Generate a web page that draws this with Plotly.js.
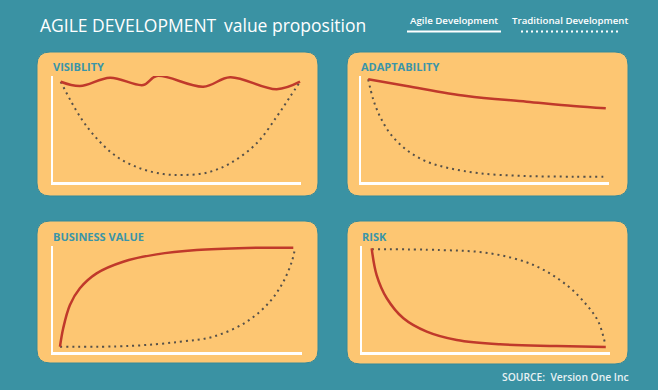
<!DOCTYPE html>
<html>
<head>
<meta charset="utf-8">
<script src="https://cdn.plot.ly/plotly-3.0.1.min.js"></script>
<style>html,body{margin:0;padding:0;background:#3a92a3;}#chart{width:658px;height:390px;}</style>
</head>
<body>
<div id="chart"></div>
<script>
// ---- data ----
const panelTitles = ["VISIBLITY", "ADAPTABILITY", "BUSINESS VALUE", "RISK"];
const seriesNames = ["Agile Development", "Traditional Development"];

const visAgileX = [3.1, 10.9, 23.0, 36.4, 41.8, 60.6, 71.4, 90.2, 99.6];
const visAgileY = [94.6, 90.6, 98.4, 91.5, 100, 89.9, 98.8, 87.5, 94.6];
const visTradX = [3.1, 10.9, 17.6, 25.7, 35.1, 44.5, 52.5, 62.0, 71.4, 82.1, 90.2, 95.6, 99.6];
const visTradY = [94.6, 61.6, 41.2, 23.9, 12.9, 7.5, 6.6, 8.8, 17.6, 36.5, 61.6, 80.5, 94.6];

const adaAgileX = [2.9, 18.4, 42.6, 66.8, 85.6, 98.7];
const adaAgileY = [96.9, 90.6, 81.1, 75.8, 71.7, 69.5];
const adaTradX = [2.9, 5.0, 7.7, 11.7, 18.4, 26.5, 35.9, 48.0, 65.4, 85.6, 97.7];
const adaTradY = [96.9, 77.4, 61.6, 45.9, 30.2, 19.2, 12.9, 8.2, 5.7, 5.0, 5.0];

const busAgileX = [2.8, 4.1, 6.8, 10.8, 17.5, 28.2, 41.6, 57.7, 77.8, 96.5];
const busAgileY = [5.0, 22.4, 44.3, 60.1, 74.2, 85.2, 92.1, 96.2, 98.1, 98.4];
const busTradX = [2.8, 30.9, 51.0, 64.4, 77.8, 87.1, 92.5, 95.9, 97.2];
const busTradY = [5.0, 5.7, 9.7, 14.5, 28.6, 47.5, 66.3, 85.2, 97.8];

const riskAgileX = [3.9, 5.9, 10.0, 16.7, 26.1, 38.2, 55.6, 78.5, 98.3];
const riskAgileY = [97.8, 72.6, 50.7, 31.8, 19.2, 11.3, 7.2, 5.7, 4.7];
const riskTradX = [3.9, 31.5, 51.6, 69.1, 82.5, 90.6, 95.3, 98.0];
const riskTradY = [96.9, 96.2, 93.1, 82.1, 63.2, 44.3, 28.6, 8.2];

const sourceText = "SOURCE:\u00a0 Version One Inc";

// ---- styling / layout ----
const W = 658, H = 390;
const TEAL = "#3a92a3", PANEL = "#fdc672", RED = "#c0392b", DOT = "#555049";
const FONT = "Open Sans";
function fx(x){ return x / W; }
function fy(y){ return 1 - y / H; }

const agileSets = [[visAgileX, visAgileY],[adaAgileX, adaAgileY],[busAgileX, busAgileY],[riskAgileX, riskAgileY]];
const tradSets = [[visTradX, visTradY],[adaTradX, adaTradY],[busTradX, busTradY],[riskTradX, riskTradY]];

const panels = [
  {rect:[37,52,318,196], dom:[53,301,182,76], tx:51, ty:66.5},
  {rect:[347,52,628,196], dom:[361,609,182,76], tx:359, ty:66.5},
  {rect:[37,221,318,363], dom:[53,302,352,246], tx:51, ty:236.5},
  {rect:[347,221,628,364], dom:[362,610,352,246], tx:360, ty:236.5}
];

function roundRect(x0,y0,x1,y1,r){
  const p = (x,y)=> fx(x).toFixed(5)+","+fy(y).toFixed(5);
  return "M"+p(x0+r,y0)+" L"+p(x1-r,y0)+" Q"+p(x1,y0)+" "+p(x1,y0+r)+
    " L"+p(x1,y1-r)+" Q"+p(x1,y1)+" "+p(x1-r,y1)+
    " L"+p(x0+r,y1)+" Q"+p(x0,y1)+" "+p(x0,y1-r)+
    " L"+p(x0,y0+r)+" Q"+p(x0,y0)+" "+p(x0+r,y0)+" Z";
}

const traces = [];
const layout = {
  width: W, height: H,
  margin: {l:0, r:0, t:0, b:0},
  paper_bgcolor: TEAL, plot_bgcolor: "rgba(0,0,0,0)",
  showlegend: false,
  shapes: [], annotations: [],
  font: {family: FONT}
};

panels.forEach((p, i) => {
  const n = i === 0 ? "" : String(i + 1);
  const xa = "x" + n, ya = "y" + n;
  traces.push({x: tradSets[i][0], y: tradSets[i][1], xaxis: xa, yaxis: ya, mode: "lines",
    line: {color: DOT, width: 2, dash: "2px,4px", shape: "spline", smoothing: 1}, hoverinfo: "skip", name: seriesNames[1]});
  traces.push({x: agileSets[i][0], y: agileSets[i][1], xaxis: xa, yaxis: ya, mode: "lines",
    line: {color: RED, width: 2.5, shape: "spline", smoothing: 1}, hoverinfo: "skip", name: seriesNames[0]});
  const axBase = {showgrid:false, zeroline:false, showticklabels:false, ticks:"", showline:true, linecolor:"#ffffff", linewidth:2.5, fixedrange:true, range:[0,100]};
  layout["xaxis" + n] = Object.assign({}, axBase, {domain:[fx(p.dom[0]), fx(p.dom[1])], anchor: ya});
  layout["yaxis" + n] = Object.assign({}, axBase, {domain:[fy(p.dom[2]), fy(p.dom[3])], anchor: xa});
  layout.shapes.push({type:"path", xref:"paper", yref:"paper", path: roundRect(...p.rect, 13), fillcolor: PANEL, line:{color:"#358a9a", width:1}, layer:"below"});
  layout.annotations.push({xref:"paper", yref:"paper", x: fx(p.tx), y: fy(p.ty), xanchor:"left", yanchor:"middle",
    text: panelTitles[i], showarrow:false, font:{family:FONT, size:11, color:"#3a95a8", weight:700}});
});

// header
layout.annotations.push({xref:"paper", yref:"paper", x: fx(38), y: fy(24.5), xanchor:"left", yanchor:"middle",
  text:"AGILE DEVELOPMENT", showarrow:false, font:{family:FONT, size:17.5, color:"#ffffff"}});
layout.annotations.push({xref:"paper", yref:"paper", x: fx(222), y: fy(24.5), xanchor:"left", yanchor:"middle",
  text:"value proposition", showarrow:false, font:{family:FONT, size:17.5, color:"#ffffff"}});
// legend
layout.annotations.push({xref:"paper", yref:"paper", x: fx(454), y: fy(20.5), xanchor:"center", yanchor:"middle",
  text: seriesNames[0], showarrow:false, font:{family:FONT, size:9.7, color:"#ffffff", weight:600}});
layout.annotations.push({xref:"paper", yref:"paper", x: fx(570), y: fy(20.5), xanchor:"center", yanchor:"middle",
  text: seriesNames[1], showarrow:false, font:{family:FONT, size:9.7, color:"#ffffff", weight:600}});
layout.shapes.push({type:"line", xref:"paper", yref:"paper", x0: fx(407), x1: fx(501), y0: fy(31.5), y1: fy(31.5), line:{color:"#ffffff", width:2}});
layout.shapes.push({type:"line", xref:"paper", yref:"paper", x0: fx(521), x1: fx(619), y0: fy(31.5), y1: fy(31.5), line:{color:"#ffffff", width:2, dash:"2px,3px"}});
// source
layout.annotations.push({xref:"paper", yref:"paper", x: fx(500), y: fy(377), xanchor:"left", yanchor:"middle",
  text: sourceText, showarrow:false, font:{family:FONT, size:10.3, color:"#e8f1f3", weight:600}});

Plotly.newPlot("chart", traces, layout, {displayModeBar:false, staticPlot:true});
</script>
</body>
</html>
